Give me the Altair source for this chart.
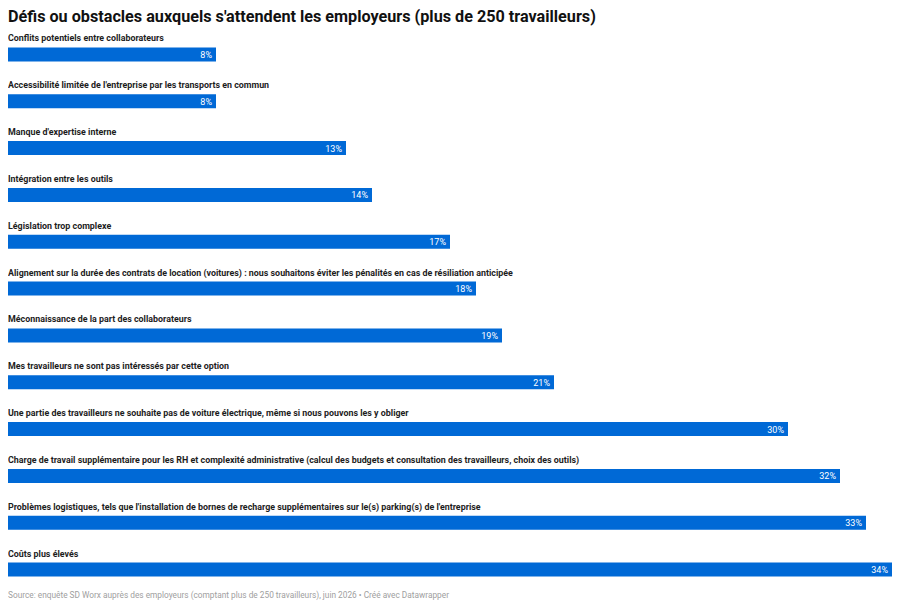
import altair as alt
import pandas as pd

categories = [
    "Conflits potentiels entre collaborateurs",
    "Accessibilité limitée de l'entreprise par les transports en commun",
    "Manque d'expertise interne",
    "Intégration entre les outils",
    "Législation trop complexe",
    "Alignement sur la durée des contrats de location (voitures) : nous souhaitons éviter les pénalités en cas de résiliation anticipée",
    "Méconnaissance de la part des collaborateurs",
    "Mes travailleurs ne sont pas intéressés par cette option",
    "Une partie des travailleurs ne souhaite pas de voiture électrique, même si nous pouvons les y obliger",
    "Charge de travail supplémentaire pour les RH et complexité administrative (calcul des budgets et consultation des travailleurs, choix des outils)",
    "Problèmes logistiques, tels que l'installation de bornes de recharge supplémentaires sur le(s) parking(s) de l'entreprise",
    "Coûts plus élevés",
]
values = [8, 8, 13, 14, 17, 18, 19, 21, 30, 32, 33, 34]

title_text = "Défis ou obstacles auxquels s'attendent les employeurs (plus de 250 travailleurs)"
source_text = (
    "Source: enquête SD Worx auprès des employeurs (comptant plus de 250 travailleurs), "
    "juin 2026 • Créé avec Datawrapper"
)

df = pd.DataFrame({"category": categories, "value": values})
df["label"] = df["value"].astype(str) + "%"

W = 884
H = 562
FONT = "Roboto"

y_enc = alt.Y("category:N", sort=categories, axis=None,
              scale=alt.Scale(paddingInner=0, paddingOuter=0))
x_enc = alt.X("value:Q", axis=None, scale=alt.Scale(domain=[0, 34], nice=False, zero=True))

base = alt.Chart(df)

bars = base.mark_bar(color="#0069d6", size=14).encode(x=x_enc, y=y_enc)

# category names sit above each bar
names = base.mark_text(
    align="left", baseline="middle", dy=-16, font=FONT, fontSize=8.9,
    fontWeight="bold", color="#1d1d1d",
).encode(x=alt.value(0), y=y_enc, text="category:N")

pct = base.mark_text(
    align="right", baseline="middle", dx=-4, dy=0.5, font=FONT, fontSize=9,
    color="white",
).encode(x=x_enc, y=y_enc, text="label:N")

source = alt.Chart(pd.DataFrame({"t": [source_text]})).mark_text(
    align="left", baseline="middle", font=FONT, fontSize=8.3, color="#a0a0a0",
).encode(x=alt.value(0), y=alt.value(H + 3), text="t:N")

chart = (
    (bars + names + pct + source)
    .properties(
        width=W,
        height=H,
        title=alt.TitleParams(
            title_text, anchor="start", font=FONT, fontSize=16.2,
            fontWeight="bold", color="#111111", offset=6,
        ),
        padding={"left": 0, "top": 23, "right": 0, "bottom": 20},
        autosize=alt.AutoSizeParams(type="none"),
    )
    .configure_view(stroke=None)
)

chart.save("out.html", embed_options={"renderer": "svg", "actions": False})
